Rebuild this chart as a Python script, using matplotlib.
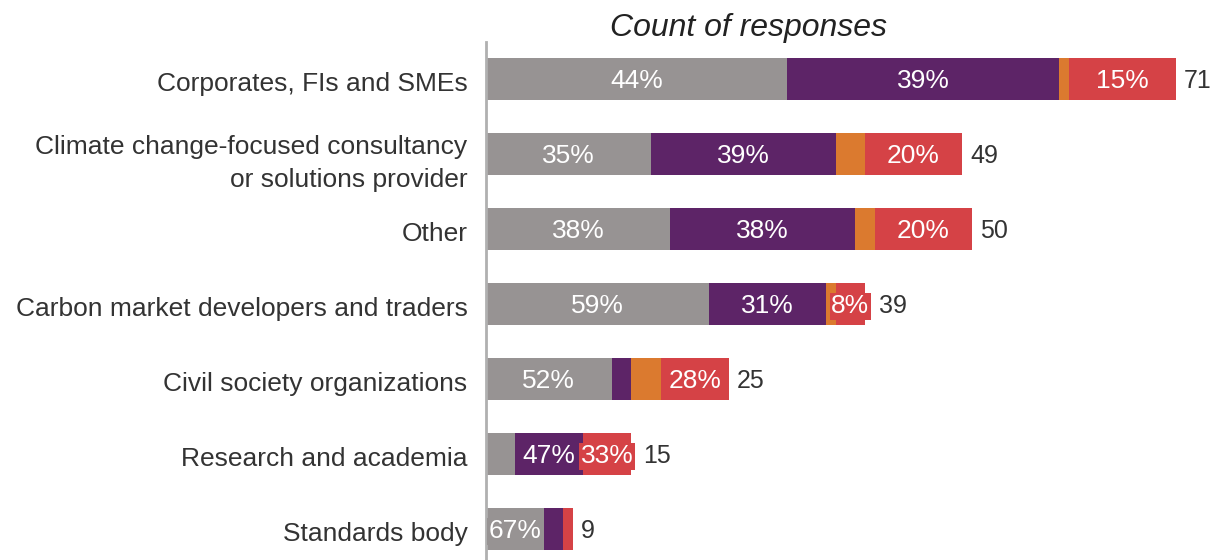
import numpy as np
import matplotlib.pyplot as plt
from matplotlib.transforms import offset_copy

plt.rcParams['font.family'] = ['Liberation Sans', 'DejaVu Sans']

categories = ['Corporates, FIs and SMEs',
              'Climate change-focused consultancy\nor solutions provider',
              'Other',
              'Carbon market developers and traders',
              'Civil society organizations',
              'Research and academia',
              'Standards body']
gray_vals = [31, 17, 19, 23, 13, 3, 6]
purple_vals = [28, 19, 19, 12, 2, 7, 2]
orange_vals = [1, 3, 2, 1, 3, 0, 0]
red_vals = [11, 10, 10, 3, 7, 5, 1]
# which segments get a percentage label
show_gray = [1, 1, 1, 1, 1, 0, 1]
show_purple = [1, 1, 1, 1, 0, 1, 0]
show_orange = [0, 0, 0, 0, 0, 0, 0]
show_red = [1, 1, 1, 1, 1, 1, 0]

colors = ['#979393', '#5d2467', '#db7a2f', '#d54246']
series = [gray_vals, purple_vals, orange_vals, red_vals]
shows = [show_gray, show_purple, show_orange, show_red]

totals = np.sum(series, axis=0)
y = np.arange(len(categories))

fig = plt.figure(figsize=(12.11, 5.6), dpi=100)
ax = fig.add_axes([0.401, 0.0, 0.599, 0.925])
ax.set_xlim(0, 74.6)
ax.set_ylim(len(categories) - 1 + 0.41, -0.49)

left = np.zeros(len(categories))
last_label = [None] * len(categories)
for vals, col, show in zip(series, colors, shows):
    vals = np.array(vals, dtype=float)
    ax.barh(y, vals, left=left, height=0.56, color=col, edgecolor='none')
    for i, v in enumerate(vals):
        if show[i] and v > 0:
            pct = round(100 * v / totals[i])
            last_label[i] = ax.text(left[i] + v / 2, y[i] + 0.03, f'{pct:.0f}%',
                                    ha='center', va='center', color='white', fontsize=19,
                                    bbox=dict(boxstyle='square,pad=0.06', fc=col, ec='none'))
    left += vals

# count labels sit after the bar or its last label box, whichever ends later
fig.canvas.draw()
inv = ax.transData.inverted()
for i, t in enumerate(totals):
    end = t
    if last_label[i] is not None:
        bx = last_label[i].get_bbox_patch().get_window_extent().x1
        end = max(end, inv.transform((bx, 0))[0])
    ax.text(end, y[i] + 0.03, str(t), ha='left', va='center', fontsize=18, color='#333333',
            transform=offset_copy(ax.transData, fig=fig, x=8, y=0, units='dots'))

ax.set_yticks(y + 0.03)
ax.set_yticklabels(categories, fontsize=19, color='#333333', linespacing=1.5)
ax.tick_params(axis='y', length=0, pad=13)
ax.set_xticks([])
for s in ['top', 'right', 'bottom']:
    ax.spines[s].set_visible(False)
ax.spines['left'].set_color('#b0b0b0')
ax.spines['left'].set_linewidth(2)

fig.text(0.618, 0.95, 'Count of responses', ha='center', va='center',
         fontsize=23, style='italic', color='#222222')

fig.savefig('out.png', dpi=100)
